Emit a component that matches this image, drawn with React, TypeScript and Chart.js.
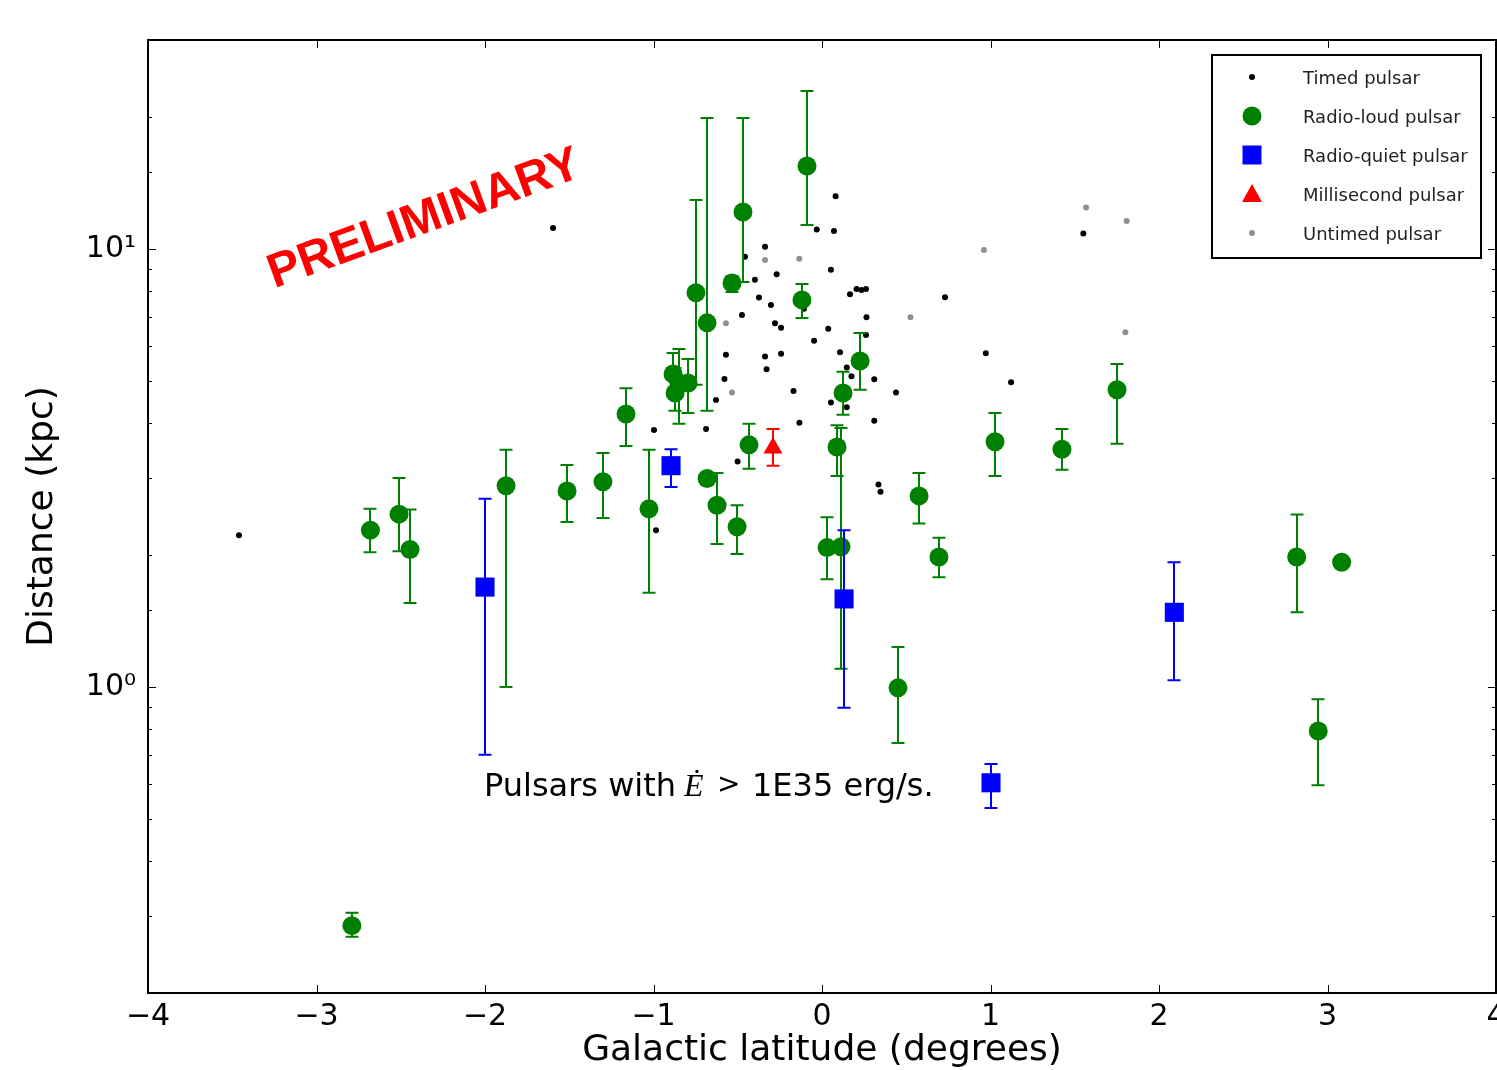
import React, { useEffect, useRef } from "react";
import { Chart, registerables } from "chart.js";

Chart.register(...registerables);

// ---------- data ----------
const xTickValues = [-4, -3, -2, -1, 0, 1, 2, 3, 4];
const yTickLabels: Record<string, string> = { "1": "10\u2070", "10": "10\u00b9" };

const legendLabels = ["Timed pulsar", "Radio-loud pulsar", "Radio-quiet pulsar", "Millisecond pulsar", "Untimed pulsar"];

const timedLat = [
  -3.46, -1.596, -0.997, -0.985, -0.688, -0.629, -0.579, -0.57, -0.501, -0.475,
  -0.457, -0.398, -0.374, -0.338, -0.338, -0.329, -0.303, -0.279, -0.269, -0.243,
  -0.243, -0.169, -0.134, -0.107, -0.047, -0.031, 0.037, 0.053, 0.053, 0.071,
  0.081, 0.107, 0.147, 0.147, 0.166, 0.175, 0.205, 0.234, 0.261, 0.264,
  0.261, 0.31, 0.31, 0.335, 0.347, 0.439, 0.73, 0.972, 1.122, 1.551,
];
const timedDist = [
  2.22, 11.16, 3.86, 2.28, 3.88, 4.52, 5.05, 5.73, 3.27, 7.07,
  9.6, 8.5, 7.75, 10.12, 5.68, 5.31, 7.45, 6.77, 8.76, 6.61,
  5.76, 4.74, 4.01, 7.3, 6.17, 11.08, 6.57, 8.96, 4.46, 10.99,
  13.2, 5.81, 5.36, 4.35, 7.88, 5.12, 8.1, 8.06, 8.1, 6.98,
  6.36, 5.04, 4.05, 2.9, 2.79, 4.7, 7.76, 5.78, 4.96, 10.84,
];

const untimedLat = [-0.338, -0.135, -0.57, -0.534, 0.525, 0.961, 1.567, 1.808, 1.8];
const untimedDist = [9.44, 9.5, 6.77, 4.7, 6.98, 9.95, 12.43, 11.59, 6.45];

const loudLat = [
  -2.79, -2.68, -2.51, -2.445, -1.875, -1.513, -1.3, -1.163, -1.027, -0.884,
  -0.872, -0.849, -0.795, -0.748, -0.682, -0.534, -0.469, -0.089, -0.119, 0.226,
  0.125, 0.089, 0.03, 0.113, -0.433, -0.682, -0.623, -0.504, 0.451, 0.576,
  0.694, 1.027, 1.424, 1.751, 2.817, 3.084, 2.945,
];
const loudDist = [
  0.285, 2.28, 2.48, 2.06, 2.88, 2.8, 2.94, 4.2, 2.55, 5.18,
  4.69, 4.94, 4.94, 7.94, 6.78, 8.36, 12.15, 15.47, 7.65, 5.55,
  4.69, 3.53, 2.08, 2.09, 3.57, 2.99, 2.6, 2.32, 0.995, 2.73,
  1.98, 3.63, 3.49, 4.77, 1.98, 1.925, 0.793,
];
const loudLow = [
  0.269, 2.03, 2.04, 1.555, 1.0, 2.38, 2.43, 3.55, 1.64, 4.67,
  4.27, 3.99, 4.22, 4.9, 4.27, 7.97, 8.41, 11.34, 6.96, 4.77,
  4.18, 3.03, 1.76, 1.1, 3.15, 2.99, 2.12, 2.01, 0.745, 2.36,
  1.78, 3.03, 3.13, 3.59, 1.48, 1.925, 0.596,
];
const loudHigh = [
  0.305, 2.55, 3.0, 2.54, 3.48, 3.21, 3.42, 4.81, 3.48, 5.79,
  5.35, 5.91, 5.61, 12.94, 19.9, 8.68, 19.9, 22.95, 8.32, 6.43,
  5.24, 3.96, 2.44, 3.9, 3.99, 2.99, 3.08, 2.6, 1.234, 3.08,
  2.19, 4.22, 3.88, 5.46, 2.475, 1.925, 0.937,
];

const quietLat = [-2.0, -0.896, 0.131, 2.091, 1.003];
const quietDist = [1.69, 3.2, 1.588, 1.48, 0.604];
const quietLow = [0.7, 2.86, 0.896, 1.036, 0.529];
const quietHigh = [2.69, 3.49, 2.28, 1.925, 0.667];

const mspLat = [-0.291];
const mspDist = [3.51];
const mspLow = [3.2];
const mspHigh = [3.88];

// ---------- helpers ----------
const pts = (xs: number[], ys: number[]) => xs.map((x, i) => ({ x, y: ys[i] }));

const errorBarPlugin = {
  id: "errorBars",
  beforeDatasetDraw(chart: any, args: any) {
    const ds = chart.data.datasets[args.index];
    if (!ds.errLow) return;
    const { ctx } = chart;
    const xs = chart.scales.x;
    const ys = chart.scales.y;
    ctx.save();
    ctx.strokeStyle = ds.errColor;
    ctx.lineWidth = 2;
    ds.data.forEach((p: any, i: number) => {
      const lo = ds.errLow[i];
      const hi = ds.errHigh[i];
      if (lo === hi) return;
      const px = Math.round(xs.getPixelForValue(p.x));
      const y1 = ys.getPixelForValue(lo);
      const y2 = ys.getPixelForValue(hi);
      ctx.beginPath();
      ctx.moveTo(px, y1);
      ctx.lineTo(px, y2);
      ctx.moveTo(px - 6.5, y1);
      ctx.lineTo(px + 6.5, y1);
      ctx.moveTo(px - 6.5, y2);
      ctx.lineTo(px + 6.5, y2);
      ctx.stroke();
    });
    ctx.restore();
  },
};

const framePlugin = {
  id: "frame",
  afterDatasetsDraw(chart: any) {
    const { ctx, chartArea: a } = chart;
    const xs = chart.scales.x;
    const ys = chart.scales.y;
    ctx.save();
    ctx.strokeStyle = "#000";
    ctx.lineWidth = 1;
    xs.ticks.forEach((t: any) => {
      const px = Math.round(xs.getPixelForValue(t.value)) + 0.5;
      ctx.beginPath();
      ctx.moveTo(px, a.bottom);
      ctx.lineTo(px, a.bottom - 8);
      ctx.moveTo(px, a.top);
      ctx.lineTo(px, a.top + 8);
      ctx.stroke();
    });
    ys.ticks.forEach((t: any) => {
      const lg = Math.log10(t.value);
      const major = Math.abs(lg - Math.round(lg)) < 1e-9;
      const len = major ? 8 : 4;
      const py = Math.round(ys.getPixelForValue(t.value)) + 0.5;
      ctx.beginPath();
      ctx.moveTo(a.left, py);
      ctx.lineTo(a.left + len, py);
      ctx.moveTo(a.right, py);
      ctx.lineTo(a.right - len, py);
      ctx.stroke();
    });
    ctx.lineWidth = 2;
    ctx.strokeRect(a.left, a.top, a.right - a.left, a.bottom - a.top);
    ctx.restore();
  },
};

const legendPlugin = {
  id: "customLegend",
  afterDraw(chart: any) {
    const { ctx } = chart;
    ctx.save();
    ctx.fillStyle = "#fff";
    ctx.fillRect(1212, 55, 269, 203);
    ctx.strokeStyle = "#000";
    ctx.lineWidth = 2;
    ctx.strokeRect(1212, 55, 269, 203);
    const rows = [79, 118, 157, 196, 235];
    const mx = 1252;
    rows.forEach((ry, i) => {
      const my = ry - 2;
      ctx.beginPath();
      if (i === 0) {
        ctx.fillStyle = "#000";
        ctx.arc(mx, my, 3, 0, Math.PI * 2);
      } else if (i === 1) {
        ctx.fillStyle = "#008000";
        ctx.arc(mx, my, 9.5, 0, Math.PI * 2);
      } else if (i === 2) {
        ctx.fillStyle = "#0000ff";
        ctx.rect(mx - 9.5, my - 9.5, 19, 19);
      } else if (i === 3) {
        ctx.fillStyle = "#ff0000";
        ctx.moveTo(mx, my - 10);
        ctx.lineTo(mx + 10, my + 8);
        ctx.lineTo(mx - 10, my + 8);
        ctx.closePath();
      } else {
        ctx.fillStyle = "#909090";
        ctx.arc(mx, my, 3, 0, Math.PI * 2);
      }
      ctx.fill();
      ctx.fillStyle = "#222";
      ctx.font = "18px 'DejaVu Sans'";
      ctx.textBaseline = "middle";
      ctx.textAlign = "left";
      ctx.fillText(legendLabels[i], 1303, ry);
    });
    ctx.restore();
  },
};

const annotationPlugin = {
  id: "annotations",
  afterDraw(chart: any) {
    const { ctx } = chart;
    ctx.save();
    ctx.translate(429, 232);
    ctx.rotate((-20 * Math.PI) / 180);
    ctx.fillStyle = "#ff0000";
    ctx.font = "bold 48px 'Liberation Sans'";
    ctx.textAlign = "center";
    ctx.textBaseline = "alphabetic";
    ctx.fillText("PRELIMINARY", 0, 0);
    ctx.restore();

    ctx.save();
    ctx.fillStyle = "#000";
    ctx.textBaseline = "alphabetic";
    ctx.textAlign = "left";
    ctx.font = "32px 'DejaVu Sans'";
    ctx.fillText("Pulsars with", 484, 796);
    ctx.font = "italic 32px 'Liberation Serif'";
    ctx.fillText("\u0116", 684, 796);
    ctx.font = "28px 'DejaVu Sans'";
    ctx.fillText(">", 717, 793);
    ctx.font = "32px 'DejaVu Sans'";
    ctx.fillText("1E35 erg/s.", 752, 796);
    ctx.restore();
  },
};

export default function App() {
  const ref = useRef<HTMLCanvasElement | null>(null);

  useEffect(() => {
    if (!ref.current) return;
    Chart.defaults.font.family = "'DejaVu Sans'";
    const chart = new Chart(ref.current, {
      type: "scatter",
      data: {
        datasets: [
          {
            label: legendLabels[3],
            data: pts(mspLat, mspDist),
            pointStyle: "triangle",
            pointRadius: 11,
            backgroundColor: "#ff0000",
            borderWidth: 0,
            errLow: mspLow,
            errHigh: mspHigh,
            errColor: "#ff0000",
          } as any,
          {
            label: legendLabels[2],
            data: pts(quietLat, quietDist),
            pointStyle: "rect",
            pointRadius: 13.5,
            backgroundColor: "#0000ff",
            borderWidth: 0,
            errLow: quietLow,
            errHigh: quietHigh,
            errColor: "#0000ff",
          } as any,
          {
            label: legendLabels[1],
            data: pts(loudLat, loudDist),
            pointStyle: "circle",
            pointRadius: 9.5,
            backgroundColor: "#008000",
            borderWidth: 0,
            errLow: loudLow,
            errHigh: loudHigh,
            errColor: "#008000",
          } as any,
          {
            label: legendLabels[4],
            data: pts(untimedLat, untimedDist),
            pointStyle: "circle",
            pointRadius: 3,
            backgroundColor: "#909090",
            borderWidth: 0,
          },
          {
            label: legendLabels[0],
            data: pts(timedLat, timedDist),
            pointStyle: "circle",
            pointRadius: 3,
            backgroundColor: "#000000",
            borderWidth: 0,
          },
        ],
      },
      options: {
        animation: false,
        responsive: false,
        devicePixelRatio: 1,
        events: [],
        layout: { autoPadding: false, padding: { top: 40, right: 1, left: 0, bottom: 0 } },
        plugins: {
          legend: { display: false },
          tooltip: { enabled: false },
        },
        scales: {
          x: {
            type: "linear",
            min: -4,
            max: 4,
            grid: { display: false, drawTicks: false },
            border: { display: false },
            ticks: {
              stepSize: 1,
              padding: 6,
              color: "#000",
              font: { size: 30, family: "'DejaVu Sans'" },
              maxRotation: 0,
              autoSkip: false,
              callback: (v: any) => (Number(v) < 0 ? "\u2212" + Math.abs(Number(v)) : String(v)),
            },
            title: {
              display: true,
              text: "Galactic latitude (degrees)",
              color: "#000",
              font: { size: 36, family: "'DejaVu Sans'", lineHeight: 1 },
              padding: { top: 0, bottom: 1 },
            },
            afterBuildTicks: (s: any) => {
              s.ticks = xTickValues.map((v) => ({ value: v }));
            },
            afterFit: (s: any) => {
              s.height = 77;
              s.paddingLeft = 0;
              s.paddingRight = 0;
            },
          } as any,
          y: {
            type: "logarithmic",
            min: 0.2,
            max: 30,
            grid: { display: false, drawTicks: false },
            border: { display: false },
            ticks: {
              padding: 12,
              color: "#000",
              autoSkip: false,
              font: { size: 30, family: "'DejaVu Sans'" },
              callback: (v: any) => yTickLabels[String(v)] ?? "",
            },
            title: {
              display: true,
              text: "Distance (kpc)",
              color: "#000",
              font: { size: 36, family: "'DejaVu Sans'", lineHeight: 1 },
              padding: { top: 25, bottom: 0 },
            },
            afterFit: (s: any) => {
              s.width = 148;
              s.paddingTop = 0;
              s.paddingBottom = 0;
            },
          } as any,
        },
      },
      plugins: [errorBarPlugin, framePlugin, legendPlugin, annotationPlugin],
    });
    return () => chart.destroy();
  }, []);

  return (
    <div style={{ position: "absolute", left: 0, top: 0, width: 1497, height: 1070, background: "#fff" }}>
      <canvas ref={ref} width={1497} height={1070} style={{ width: 1497, height: 1070, display: "block" }} />
    </div>
  );
}
